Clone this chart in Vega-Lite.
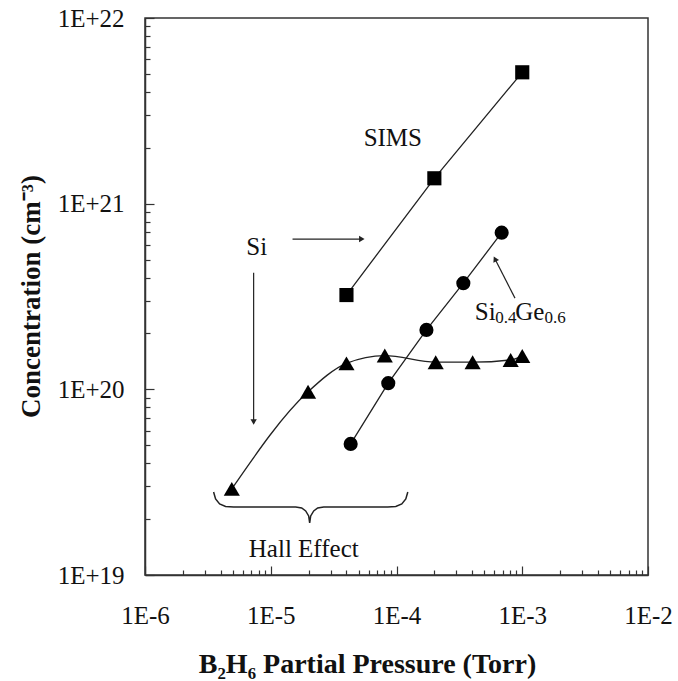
{
  "$schema": "https://vega.github.io/schema/vega-lite/v6.json",
  "autosize": "none",
  "width": 503,
  "height": 557,
  "padding": {"left": 145, "top": 18, "right": 30, "bottom": 106},
  "background": "white",
  "config": {
    "view": {"stroke": "#333", "strokeWidth": 1.5},
    "font": "Liberation Serif"
  },
  "datasets": {
    "pts": [
      {"series": "SIMS", "pressure": 4.0e-5, "conc": 3.22e20},
      {"series": "SIMS", "pressure": 2.0e-4, "conc": 1.37e21},
      {"series": "SIMS", "pressure": 1.0e-3, "conc": 5.1e21},
      {"series": "SiGe", "pressure": 4.32e-5, "conc": 5.08e19},
      {"series": "SiGe", "pressure": 8.6e-5, "conc": 1.08e20},
      {"series": "SiGe", "pressure": 1.73e-4, "conc": 2.09e20},
      {"series": "SiGe", "pressure": 3.4e-4, "conc": 3.73e20},
      {"series": "SiGe", "pressure": 6.86e-4, "conc": 6.98e20},
      {"series": "Hall", "pressure": 4.9e-6, "conc": 2.91e19},
      {"series": "Hall", "pressure": 1.98e-5, "conc": 9.7e19},
      {"series": "Hall", "pressure": 4.0e-5, "conc": 1.38e20},
      {"series": "Hall", "pressure": 8.07e-5, "conc": 1.52e20},
      {"series": "Hall", "pressure": 2.05e-4, "conc": 1.40e20},
      {"series": "Hall", "pressure": 4.03e-4, "conc": 1.40e20},
      {"series": "Hall", "pressure": 8.09e-4, "conc": 1.44e20},
      {"series": "Hall", "pressure": 1.0e-3, "conc": 1.51e20}
    ],
    "brace": [
      {"order": 1, "pressure": 3.511e-6, "conc": 2.802e19},
      {"order": 2, "pressure": 3.642e-6, "conc": 2.570e19},
      {"order": 3, "pressure": 3.920e-6, "conc": 2.415e19},
      {"order": 4, "pressure": 4.374e-6, "conc": 2.341e19},
      {"order": 5, "pressure": 5.065e-6, "conc": 2.326e19},
      {"order": 6, "pressure": 1.579e-5, "conc": 2.326e19},
      {"order": 7, "pressure": 1.762e-5, "conc": 2.297e19},
      {"order": 8, "pressure": 1.896e-5, "conc": 2.213e19},
      {"order": 9, "pressure": 2.002e-5, "conc": 2.081e19},
      {"order": 10, "pressure": 2.040e-5, "conc": 1.909e19},
      {"order": 11, "pressure": 2.078e-5, "conc": 2.081e19},
      {"order": 12, "pressure": 2.196e-5, "conc": 2.213e19},
      {"order": 13, "pressure": 2.363e-5, "conc": 2.297e19},
      {"order": 14, "pressure": 2.638e-5, "conc": 2.326e19},
      {"order": 15, "pressure": 8.525e-5, "conc": 2.326e19},
      {"order": 16, "pressure": 9.872e-5, "conc": 2.341e19},
      {"order": 17, "pressure": 1.102e-4, "conc": 2.415e19},
      {"order": 18, "pressure": 1.186e-4, "conc": 2.570e19},
      {"order": 19, "pressure": 1.230e-4, "conc": 2.802e19}
    ],
    "labels": [
      {"label": "SIMS", "pressure": 9.35e-5, "conc": 2.26e21},
      {"label": "Si", "pressure": 7.73e-6, "conc": 5.85e20},
      {"label": "Hall Effect", "pressure": 1.83e-5, "conc": 1.383e19}
    ],
    "sige": [
      {"label": "Si", "sub": false, "pressure": 4.2e-4, "conc": 2.364e20},
      {"label": "0.4", "sub": true, "pressure": 6.1e-4, "conc": 2.263e20},
      {"label": "Ge", "sub": false, "pressure": 8.8e-4, "conc": 2.364e20},
      {"label": "0.6", "sub": true, "pressure": 1.5e-3, "conc": 2.263e20}
    ],
    "arrows": [
      {"arrow": "right", "pressure": 1.49e-5, "conc": 6.45e20, "pressure2": 5.3e-5, "conc2": 6.45e20},
      {"arrow": "down", "pressure": 7.31e-6, "conc": 4.24e20, "pressure2": 7.31e-6, "conc2": 6.67e19},
      {"arrow": "leader", "pressure": 8.75e-4, "conc": 3.1e20, "pressure2": 6.07e-4, "conc2": 5.04e20}
    ]
  },
  "encoding": {
    "x": {
      "field": "pressure",
      "type": "quantitative",
      "scale": {"type": "log", "domain": [1e-6, 1e-2], "nice": false},
      "axis": {
        "title": "B₂H₆ Partial Pressure (Torr)",
        "titleFont": "Liberation Serif",
        "titleFontWeight": "bold",
        "titleFontSize": 28,
        "titleColor": "#111",
        "titleX": 222,
        "titleY": 97,
        "titleAlign": "center",
        "titleBaseline": "alphabetic",
        "values": [1e-6, 2e-6, 3e-6, 4e-6, 5e-6, 6e-6, 7e-6, 8e-6, 9e-6, 1e-5, 2e-5, 3e-5, 4e-5, 5e-5, 6e-5, 7e-5, 8e-5, 9e-5, 1e-4, 2e-4, 3e-4, 4e-4, 5e-4, 6e-4, 7e-4, 8e-4, 9e-4, 1e-3, 2e-3, 3e-3, 4e-3, 5e-3, 6e-3, 7e-3, 8e-3, 9e-3, 1e-2],
        "labelExpr": "abs(log(datum.value)/LN10 - round(log(datum.value)/LN10)) < 1e-6 ? '1E' + round(log(datum.value)/LN10) : ''",
        "labelFont": "Liberation Serif",
        "labelFontSize": 25,
        "labelColor": "#111",
        "labelPadding": 37,
        "labelFlush": false,
        "labelOverlap": false,
        "tickSize": {"expr": "abs(log(datum.value)/LN10 - round(log(datum.value)/LN10)) < 1e-6 ? -9 : -5"},
        "tickColor": "#333",
        "tickWidth": 1.2,
        "domainColor": "#333",
        "domainWidth": 1.5,
        "grid": false
      }
    },
    "y": {
      "field": "conc",
      "type": "quantitative",
      "scale": {"type": "log", "domain": [1e19, 1e22], "nice": false},
      "axis": {
        "title": "Concentration (cm⁻³)",
        "titleFont": "Liberation Serif",
        "titleFontWeight": "bold",
        "titleFontSize": 27,
        "titleColor": "#111",
        "titleAngle": -90,
        "titleX": -114,
        "titleY": 278,
        "titleAlign": "center",
        "titleBaseline": "middle",
        "values": [1e19, 2e19, 3e19, 4e19, 5e19, 6e19, 7e19, 8e19, 9e19, 1e20, 2e20, 3e20, 4e20, 5e20, 6e20, 7e20, 8e20, 9e20, 1e21, 2e21, 3e21, 4e21, 5e21, 6e21, 7e21, 8e21, 9e21, 1e22],
        "labelExpr": "abs(log(datum.value)/LN10 - round(log(datum.value)/LN10)) < 1e-6 ? '1E+' + round(log(datum.value)/LN10) : ''",
        "labelFont": "Liberation Serif",
        "labelFontSize": 25,
        "labelColor": "#111",
        "labelPadding": 30,
        "labelFlush": false,
        "labelOverlap": false,
        "tickSize": {"expr": "abs(log(datum.value)/LN10 - round(log(datum.value)/LN10)) < 1e-6 ? -9 : -5"},
        "tickColor": "#333",
        "tickWidth": 1.2,
        "domainColor": "#333",
        "domainWidth": 1.5,
        "grid": false
      }
    }
  },
  "layer": [
    {
      "data": {"name": "pts"},
      "transform": [{"filter": "datum.series === 'SIMS'"}],
      "mark": {"type": "line", "color": "#222", "strokeWidth": 1.3}
    },
    {
      "data": {"name": "pts"},
      "transform": [{"filter": "datum.series === 'SIMS'"}],
      "mark": {"type": "point", "shape": "square", "filled": true, "color": "#000", "size": 200, "opacity": 1}
    },
    {
      "data": {"name": "pts"},
      "transform": [{"filter": "datum.series === 'SiGe'"}],
      "mark": {"type": "line", "color": "#222", "strokeWidth": 1.3}
    },
    {
      "data": {"name": "pts"},
      "transform": [{"filter": "datum.series === 'SiGe'"}],
      "mark": {"type": "point", "shape": "circle", "filled": true, "color": "#000", "size": 200, "opacity": 1}
    },
    {
      "data": {"name": "pts"},
      "transform": [{"filter": "datum.series === 'Hall'"}],
      "mark": {"type": "line", "color": "#222", "strokeWidth": 1.3, "interpolate": "monotone"}
    },
    {
      "data": {"name": "pts"},
      "transform": [{"filter": "datum.series === 'Hall'"}],
      "mark": {"type": "point", "shape": "triangle-up", "filled": true, "color": "#000", "size": 260, "opacity": 1}
    },
    {
      "data": {"name": "brace"},
      "mark": {"type": "line", "color": "#222", "strokeWidth": 1.5},
      "encoding": {"order": {"field": "order", "type": "quantitative"}}
    },
    {
      "data": {"name": "arrows"},
      "mark": {"type": "rule", "color": "#222", "strokeWidth": 1.2},
      "encoding": {
        "x2": {"field": "pressure2"},
        "y2": {"field": "conc2"}
      }
    },
    {
      "data": {"name": "arrows"},
      "transform": [{"filter": "datum.arrow === 'right'"}],
      "mark": {"type": "point", "shape": "triangle-right", "filled": true, "color": "#222", "size": 40, "opacity": 1},
      "encoding": {"x": {"field": "pressure2", "type": "quantitative"}, "y": {"field": "conc2", "type": "quantitative"}}
    },
    {
      "data": {"name": "arrows"},
      "transform": [{"filter": "datum.arrow === 'down'"}],
      "mark": {"type": "point", "shape": "triangle-down", "filled": true, "color": "#222", "size": 40, "opacity": 1},
      "encoding": {"x": {"field": "pressure2", "type": "quantitative"}, "y": {"field": "conc2", "type": "quantitative"}}
    },
    {
      "data": {"name": "arrows"},
      "transform": [{"filter": "datum.arrow === 'leader'"}],
      "mark": {"type": "point", "shape": "triangle-up", "filled": true, "color": "#222", "size": 40, "opacity": 1, "angle": 333},
      "encoding": {"x": {"field": "pressure2", "type": "quantitative"}, "y": {"field": "conc2", "type": "quantitative"}}
    },
    {
      "data": {"name": "labels"},
      "mark": {"type": "text", "font": "Liberation Serif", "fontSize": 25, "color": "#111", "align": "center", "baseline": "middle"},
      "encoding": {"text": {"field": "label"}}
    },
    {
      "data": {"name": "sige"},
      "mark": {"type": "text", "font": "Liberation Serif", "color": "#111", "align": "left", "baseline": "alphabetic"},
      "encoding": {
        "text": {"field": "label"},
        "size": {"condition": {"test": "datum.sub", "value": 17}, "value": 25}
      }
    }
  ]
}
